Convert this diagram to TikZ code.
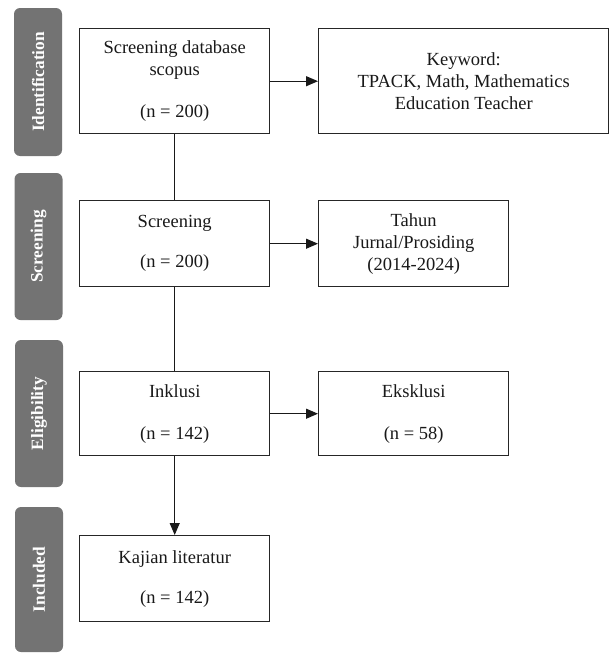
\documentclass[tikz,border=0pt]{standalone}
\usepackage{fontspec}
\setmainfont{Liberation Serif}
\usetikzlibrary{arrows.meta}
\begin{document}
\begin{tikzpicture}[x=1pt,y=-1pt,>={Triangle[length=12pt,width=10pt]},font=\fontsize{18.5}{22}\selectfont,
	box/.style={draw=black!85,line width=1.4pt,fill=white,text=black!90,align=center,inner sep=0pt,anchor=north west},
	phase/.style={fill=black!55,rounded corners=6pt,rotate=90,text=white,minimum height=48pt,inner sep=0pt,font=\fontsize{17.3}{20}\selectfont\bfseries},
	line/.style={line width=1.2pt,draw=black!90}]
			\useasboundingbox (0,0) rectangle (610,653);
			\node[phase,minimum width=148pt] (ident) at (38,82) {Identification};
			\node[phase,minimum width=147pt] (scr) at (38.5,246.5) {Screening};
			\node[phase,minimum width=147pt] (elig) at (39,413.5) {Eligibility};
			\node[phase,minimum width=145pt] (incl) at (39,579.5) {Included};
			\node[box,minimum width=190pt,minimum height=105pt] (scopus) at (79,28) {Screening database\\scopus\\[20pt](n = 200)};
			\node[box,minimum width=290pt,minimum height=105pt] (keyword) at (318,28) {Keyword:\\TPACK, Math, Mathematics\\Education Teacher};
			\node[box,minimum width=190pt,minimum height=86pt] (screen) at (79,200) {Screening\\[18pt](n = 200)};
			\node[box,minimum width=190pt,minimum height=86pt] (tahun) at (318,200) {Tahun\\Jurnal/Prosiding\\(2014-2024)};
			\node[box,minimum width=190pt,minimum height=84pt] (inklusi) at (79,371) {Inklusi\\[20pt](n = 142)};
			\node[box,minimum width=190pt,minimum height=84pt] (eksklusi) at (318,371) {Eksklusi\\[20pt](n = 58)};
			\node[box,minimum width=190pt,minimum height=86pt] (kajian) at (79,535) {Kajian literatur\\[18pt](n = 142)};
			\draw[line,->] (scopus) -- (keyword);
			\draw[line] (scopus) -- (screen);
			\draw[line,->] (screen) -- (tahun);
			\draw[line] (screen) -- (inklusi);
			\draw[line,->] (inklusi) -- (eksklusi);
			\draw[line,->] (inklusi) -- (kajian);
		\end{tikzpicture}
\end{document}
